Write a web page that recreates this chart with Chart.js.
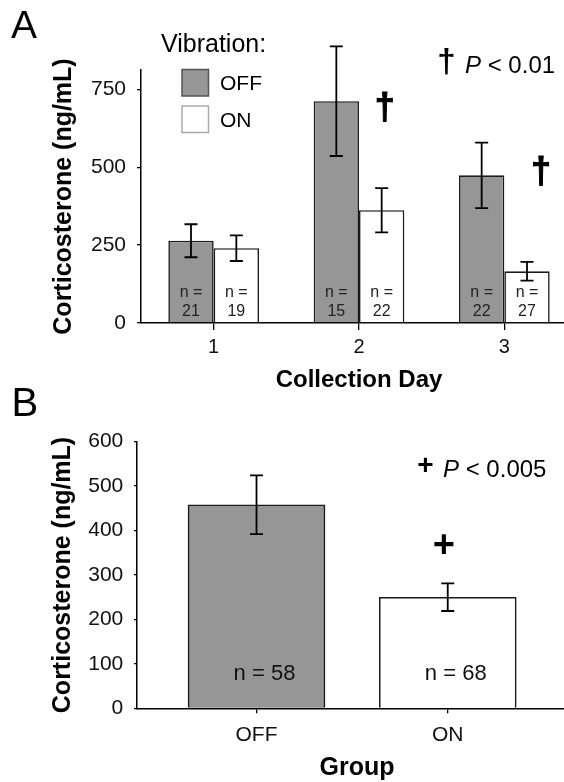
<!DOCTYPE html>
<html>
<head>
<meta charset="utf-8">
<script src="https://cdn.jsdelivr.net/npm/chart.js@4.4.1/dist/chart.umd.min.js"></script>
<style>
  html, body { margin: 0; padding: 0; background: #fff; }
  body { width: 564px; height: 782px; overflow: hidden; position: relative; }
  .panel { position: absolute; left: 0; }
  #wrapA { top: 0; width: 580px; height: 400px; }
  #wrapB { top: 380px; width: 580px; height: 407px; }
</style>
</head>
<body>
<div class="panel" id="wrapA"><canvas id="chartA" width="580" height="400"></canvas></div>
<div class="panel" id="wrapB"><canvas id="chartB" width="580" height="407"></canvas></div>
<script>
// Panel A - corticosterone by collection day
var dayLabels = ['1', '2', '3'];
var offMeans = [264, 712, 474];
var offErr = [53, 176, 105];
var offN = [21, 15, 22];
var onMeans = [240, 362, 166];
var onErr = [41, 71, 30];
var onN = [19, 22, 27];
var ticksA = [0, 250, 500, 750];

// Panel B - pooled by group
var groupLabels = ['OFF', 'ON'];
var groupMeans = [458, 250];
var groupErr = [66, 31];
var groupN = [58, 68];
var ticksB = [0, 100, 200, 300, 400, 500, 600];

var FONT = "'Liberation Sans', Arial, sans-serif";
var GRAY = '#969696';
var EDGE = '#1a1a1a';

function setTicks(list) {
    return function (scale) {
        scale.ticks = list.map(function (v) { return {value: v}; });
    };
}

// error bars, drawn over the bars
function drawErrorBars(chart) {
    var ctx = chart.ctx;
    var yScale = chart.scales.y;
    ctx.save();
    ctx.strokeStyle = '#000';
    ctx.lineWidth = 1.8;
    chart.data.datasets.forEach(function (ds, i) {
        var meta = chart.getDatasetMeta(i);
        meta.data.forEach(function (bar, j) {
            var hi = yScale.getPixelForValue(ds.means[j] + ds.errs[j]);
            var lo = yScale.getPixelForValue(ds.means[j] - ds.errs[j]);
            ctx.beginPath();
            ctx.moveTo(bar.x, hi);
            ctx.lineTo(bar.x, lo);
            ctx.moveTo(bar.x - 6.5, hi);
            ctx.lineTo(bar.x + 6.5, hi);
            ctx.moveTo(bar.x - 6.5, lo);
            ctx.lineTo(bar.x + 6.5, lo);
            ctx.stroke();
        });
    });
    ctx.restore();
}

function pText(ctx, x, base, size, rest) {
    ctx.textAlign = 'left';
    ctx.textBaseline = 'alphabetic';
    ctx.font = 'italic ' + size + 'px ' + FONT;
    ctx.fillText('P', x, base);
    var w = ctx.measureText('P').width;
    ctx.font = size + 'px ' + FONT;
    ctx.fillText(rest, x + w, base);
}

var panelA = {
    id: 'panelA',
    afterDatasetsDraw: function (chart) {
        var ctx = chart.ctx;
        var yScale = chart.scales.y;
        var zero = yScale.getPixelForValue(0);
        drawErrorBars(chart);

        ctx.save();
        ctx.fillStyle = '#222';
        ctx.textAlign = 'center';
        ctx.textBaseline = 'middle';
        ctx.font = '16px ' + FONT;
        chart.data.datasets.forEach(function (ds, i) {
            chart.getDatasetMeta(i).data.forEach(function (bar, j) {
                ctx.fillText('n =', bar.x, zero - 30);
                ctx.fillText(String(ds.n[j]), bar.x, zero - 11);
            });
        });

        // significance daggers over ON bars
        var onMeta = chart.getDatasetMeta(1);
        ctx.fillStyle = '#000';
        ctx.strokeStyle = '#000';
        ctx.lineWidth = 1;
        ctx.font = 'bold 36px ' + FONT;
        [{idx: 1, dx: 3, at: 688}, {idx: 2, dx: 14, at: 481}].forEach(function (s) {
            var px = onMeta.data[s.idx].x + s.dx, py = yScale.getPixelForValue(s.at);
            ctx.fillText('\u2020', px, py);
            ctx.strokeText('\u2020', px, py);
        });

        // panel letter, legend, note
        ctx.textAlign = 'left';
        ctx.textBaseline = 'alphabetic';
        ctx.font = '39px ' + FONT;
        ctx.fillText('A', 11, 38);
        ctx.font = '25px ' + FONT;
        ctx.fillText('Vibration:', 161, 51.5);

        var sets = chart.data.datasets;
        ctx.lineWidth = 1.5;
        ctx.fillStyle = sets[0].backgroundColor;
        ctx.fillRect(182, 69.5, 26.5, 26.5);
        ctx.strokeStyle = '#555';
        ctx.strokeRect(182, 69.5, 26.5, 26.5);
        ctx.fillStyle = sets[1].backgroundColor;
        ctx.fillRect(182, 106, 26.5, 26.5);
        ctx.strokeStyle = '#aaa';
        ctx.strokeRect(182, 106, 26.5, 26.5);
        ctx.fillStyle = '#000';
        ctx.font = '21px ' + FONT;
        ctx.fillText(sets[0].label, 220, 89.5);
        ctx.fillText(sets[1].label, 220, 126.5);

        ctx.textAlign = 'center';
        ctx.textBaseline = 'middle';
        ctx.font = 'bold 33px ' + FONT;
        ctx.fillText('\u2020', 446.5, 63);
        pText(ctx, 465, 72.7, 24, ' < 0.01');
        ctx.restore();
    }
};

var panelB = {
    id: 'panelB',
    afterDatasetsDraw: function (chart) {
        var ctx = chart.ctx;
        var yScale = chart.scales.y;
        var zero = yScale.getPixelForValue(0);
        drawErrorBars(chart);

        ctx.save();
        ctx.fillStyle = '#111';
        ctx.textAlign = 'center';
        ctx.textBaseline = 'middle';
        ctx.font = '22px ' + FONT;
        var ds = chart.data.datasets[0];
        var meta = chart.getDatasetMeta(0);
        meta.data.forEach(function (bar, j) {
            ctx.fillText('n = ' + ds.n[j], bar.x + 8, zero - 34);
        });

        ctx.fillStyle = '#000';
        ctx.font = 'bold 38px ' + FONT;
        ctx.fillText('+', meta.data[1].x - 4, yScale.getPixelForValue(364));

        ctx.font = 'bold 28px ' + FONT;
        ctx.fillText('+', 425.5, 86.7);
        pText(ctx, 443, 97.3, 24, ' < 0.005');

        ctx.font = '40px ' + FONT;
        ctx.fillText('B', 11.5, 36);
        ctx.restore();
    }
};

function axisY(ticks, max, width, tick, pad, title) {
    return {
        min: 0,
        max: max,
        bounds: 'data',
        afterBuildTicks: setTicks(ticks),
        grid: {drawOnChartArea: false, tickLength: tick, color: '#000', lineWidth: 1.3},
        border: {color: '#000', width: 1.5},
        ticks: {color: '#111', font: {family: FONT, size: 21}, padding: pad},
        title: {display: true, text: title, color: '#000', padding: 0,
            font: {family: FONT, size: 25, weight: 'bold'}},
        afterFit: function (s) { s.width = width; }
    };
}

new Chart(document.getElementById('chartA'), {
    type: 'bar',
    data: {
        labels: dayLabels,
        datasets: [
            {label: 'OFF', data: offMeans, means: offMeans, errs: offErr, n: offN,
                backgroundColor: GRAY, borderColor: EDGE, borderWidth: 1.6},
            {label: 'ON', data: onMeans, means: onMeans, errs: onErr, n: onN,
                backgroundColor: '#ffffff', borderColor: EDGE, borderWidth: 1.6}
        ]
    },
    options: {
        responsive: false,
        animation: false,
        layout: {padding: {left: 49, top: 70, right: 3, bottom: 5.6}},
        datasets: {bar: {categoryPercentage: 0.624, barPercentage: 1}},
        plugins: {legend: {display: false}, tooltip: {enabled: false}},
        scales: {
            x: {
                grid: {drawOnChartArea: false, offset: false, tickLength: 7, color: '#000', lineWidth: 1.3},
                border: {color: '#000', width: 1.5},
                ticks: {color: '#111', font: {family: FONT, size: 20}, padding: 5},
                title: {display: true, text: 'Collection Day', color: '#000', padding: 0,
                    font: {family: FONT, size: 24, weight: 'bold'}},
                afterFit: function (s) { s.height = 71.4; }
            },
            y: axisY(ticksA, 812, 92, 4, 11, 'Corticosterone (ng/mL)')
        }
    },
    plugins: [panelA]
});

new Chart(document.getElementById('chartB'), {
    type: 'bar',
    data: {
        datasets: [{
            label: 'Group',
            data: groupMeans.map(function (v, i) { return {x: i, y: v}; }),
            means: groupMeans, errs: groupErr, n: groupN,
            backgroundColor: [GRAY, '#ffffff'],
            borderColor: EDGE,
            borderWidth: 1.6,
            barThickness: 137
        }]
    },
    options: {
        responsive: false,
        animation: false,
        layout: {padding: {left: 48, top: 61.7, right: 3, bottom: 4}},
        plugins: {legend: {display: false}, tooltip: {enabled: false}},
        scales: {
            x: {
                type: 'linear',
                offset: false,
                min: -0.625,
                max: 1.676,
                bounds: 'data',
                afterBuildTicks: setTicks([0, 1]),
                grid: {drawOnChartArea: false, offset: false, tickLength: 5, color: '#000', lineWidth: 1.3},
                border: {color: '#000', width: 1.5},
                ticks: {color: '#111', font: {family: FONT, size: 21}, padding: 9,
                    callback: function (v) { return groupLabels[v]; }},
                title: {display: true, text: 'Group', color: '#000', padding: 0,
                    font: {family: FONT, size: 25, weight: 'bold'}},
                afterFit: function (s) { s.height = 74.7; }
            },
            y: axisY(ticksB, 600, 89, 3, 10.7, 'Corticosterone (ng/mL)')
        }
    },
    plugins: [panelB]
});
</script>
</body>
</html>
